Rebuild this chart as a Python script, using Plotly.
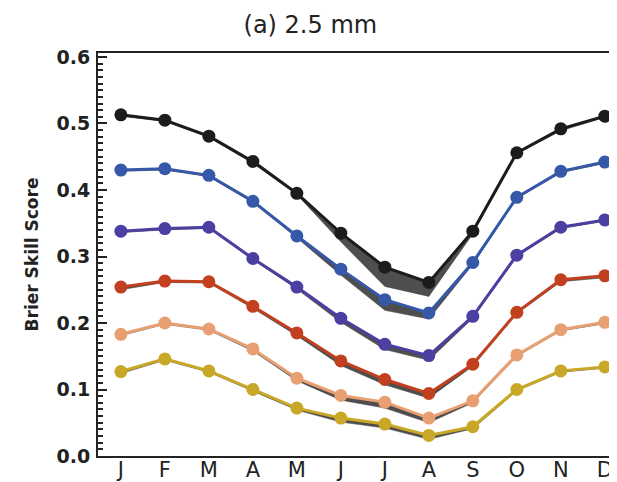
import plotly.graph_objects as go

months = ["J", "F", "M", "A", "M", "J", "J", "A", "S", "O", "N", "D"]
x = list(range(1, 13))

black = [0.513, 0.505, 0.481, 0.443, 0.395, 0.335, 0.284, 0.261, 0.338, 0.456, 0.492, 0.511]
blue = [0.430, 0.432, 0.422, 0.383, 0.331, 0.281, 0.235, 0.215, 0.291, 0.389, 0.428, 0.442]
purple = [0.338, 0.342, 0.344, 0.297, 0.254, 0.207, 0.168, 0.151, 0.210, 0.302, 0.344, 0.355]
red = [0.254, 0.263, 0.262, 0.225, 0.185, 0.143, 0.115, 0.094, 0.138, 0.216, 0.265, 0.271]
orange = [0.183, 0.200, 0.191, 0.161, 0.117, 0.091, 0.081, 0.057, 0.083, 0.152, 0.190, 0.201]
yellow = [0.127, 0.146, 0.128, 0.100, 0.072, 0.057, 0.048, 0.031, 0.044, 0.100, 0.128, 0.134]

black_lo = [0.511, 0.503, 0.479, 0.440, 0.393, 0.322, 0.255, 0.240, 0.334, 0.454, 0.489, 0.509]
blue_lo = [0.428, 0.430, 0.420, 0.381, 0.328, 0.272, 0.219, 0.206, 0.288, 0.387, 0.426, 0.440]
purple_lo = [0.336, 0.340, 0.342, 0.295, 0.251, 0.201, 0.160, 0.144, 0.207, 0.300, 0.342, 0.353]
red_lo = [0.250, 0.261, 0.260, 0.222, 0.181, 0.136, 0.107, 0.087, 0.135, 0.214, 0.262, 0.268]
orange_lo = [0.181, 0.198, 0.189, 0.158, 0.113, 0.084, 0.072, 0.050, 0.080, 0.150, 0.188, 0.199]
yellow_lo = [0.124, 0.144, 0.126, 0.098, 0.069, 0.051, 0.042, 0.025, 0.041, 0.098, 0.126, 0.132]

series = [
    (black, black_lo, "#1c1c1c"),
    (blue, blue_lo, "#3558a8"),
    (purple, purple_lo, "#4b3fa2"),
    (red, red_lo, "#c2401f"),
    (orange, orange_lo, "#e8a072"),
    (yellow, yellow_lo, "#c8a826"),
]

fig = go.Figure()
for vals, lo, col in series:
    fig.add_trace(go.Scatter(x=x, y=lo, mode="lines", line=dict(width=0.5, color="#404040"),
                             showlegend=False, hoverinfo="skip"))
    fig.add_trace(go.Scatter(x=x, y=vals, mode="lines", line=dict(width=0, color="#505050"),
                             fill="tonexty", fillcolor="rgba(68,68,68,0.95)",
                             showlegend=False, hoverinfo="skip"))
for vals, lo, col in series:
    fig.add_trace(go.Scatter(x=x, y=vals, mode="lines+markers",
                             line=dict(width=3, color=col),
                             marker=dict(size=13, color=col),
                             showlegend=False))

fig.update_layout(
    width=617, height=482,
    margin=dict(l=90, r=5, t=45, b=34),
    paper_bgcolor="white", plot_bgcolor="white",
    font=dict(family="DejaVu Sans", color="#222"),
    title=dict(text="(a) 2.5 mm", x=0.49, xanchor="center", y=0.965, yanchor="middle",
               font=dict(size=24, family="DejaVu Sans", color="#222")),
    xaxis=dict(range=[0.48, 12.3], tickvals=x, ticktext=months, showgrid=False,
               zeroline=False, showline=True, linecolor="#222", linewidth=2, mirror=True,
               ticks="", ticklabelstandoff=-6,
               tickfont=dict(size=21, family="DejaVu Sans", color="#222")),
    yaxis=dict(range=[0, 0.606], dtick=0.1, tickformat=".1f", showgrid=False,
               zeroline=False, showline=True, linecolor="#222", linewidth=2,
               mirror="ticks", ticks="inside", ticklen=9, tickwidth=2, tickcolor="#222",
               minor=dict(dtick=0.01, ticks="inside", ticklen=5, tickwidth=1.5, tickcolor="#222"),
               ticklabelstandoff=2,
               tickfont=dict(size=19, family="DejaVu Sans", color="#222", weight="bold"),
               title=dict(text="Brier Skill Score", standoff=14,
                          font=dict(size=17, family="DejaVu Sans", color="#222", weight="bold"))),
)

fig.write_html("out.html")
